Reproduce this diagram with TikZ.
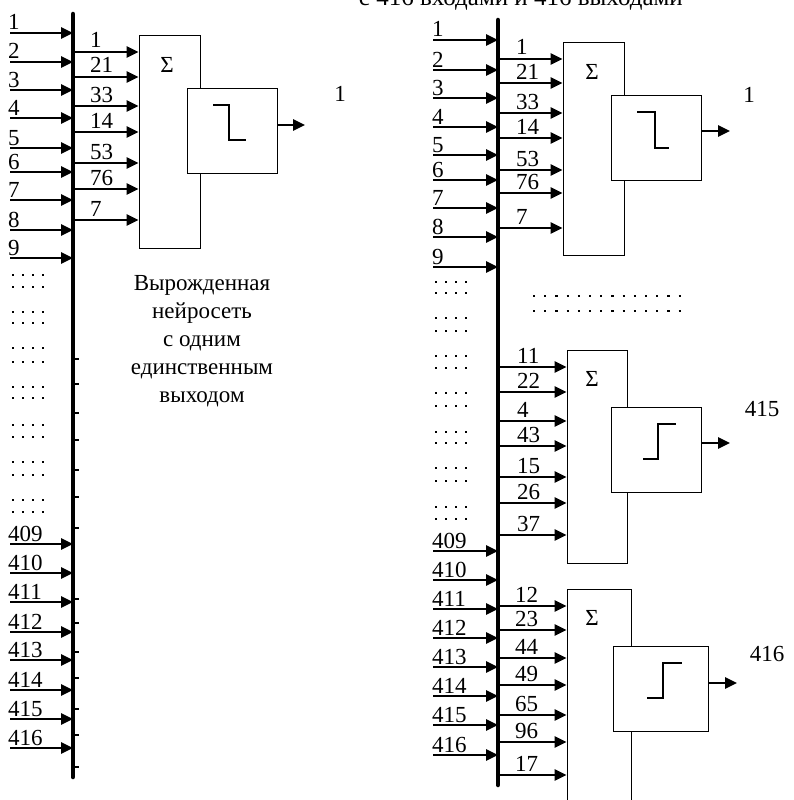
\documentclass[tikz,border=0pt]{standalone}
\usepackage{fontspec}
\setmainfont{Liberation Serif}
\usetikzlibrary{arrows.meta}
\begin{document}
\begin{tikzpicture}[x=1pt,y=-1pt,
  arr/.style={line width=2.6pt,-{Triangle[length=12pt,width=11pt]}},
  busln/.style={line width=4.5pt,line cap=round},
  box/.style={draw,line width=1pt,fill=white,inner sep=0pt},
  stepln/.style={line width=2.8pt},
  lbl/.style={font=\fontsize{23}{28}\selectfont,inner sep=0pt,anchor=base west},
  olbl/.style={font=\fontsize{23}{28}\selectfont,inner sep=0pt,anchor=base},
  dotrow/.style={line width=2.2pt,dash pattern=on 2.2pt off 7.8pt},
  middots/.style={line width=2.2pt,dash pattern=on 2.2pt off 9pt},
  tick/.style={line width=2.5pt}]
\useasboundingbox (0,0) rectangle (793,800);

% caption (cut at the top, as in the reference)
\node[font=\fontsize{25}{30}\selectfont,inner sep=0pt,anchor=base east] (cap) at (683,6) {с 416 входами и 416 выходами};

% ================= LEFT =================
\coordinate (busLt) at (73,14);
\coordinate (busLb) at (73,777);
\draw[busln] (busLt) -- (busLb);

\foreach \n/\y in {1/33,2/62,3/90,4/118,5/148,6/172,7/200,8/230,9/258,
                   409/544,410/573,411/602,412/632,413/660,414/690,415/719,416/748}{
  \coordinate (iL\n) at (10,\y);
  \node[lbl] (tL\n) at (8,\y-3) {\n};
  \draw[arr] (iL\n) -- (iL\n -| busLt);
}
\foreach \y in {275,287,312,323,348,362,387,398,425,437,462,475,500,512}{
  \draw[dotrow] (12,\y) -- (46,\y);
}
\foreach \y in {359,384,413,440,470,497,528,599,623,652,678,709,735,767}{
  \draw[tick] (75,\y) -- (79,\y);
}

\node[box,minimum width=61pt,minimum height=212pt] (sumL) at (169.5,142) {};
\node[olbl] (sigL) at (167,72) {Σ};
\foreach \n/\y in {1/52,21/77,33/106,14/132,53/163,76/189,7/220}{
  \node[lbl] (wL\n) at (90,\y-4) {\n};
  \draw[arr] (75,\y) -- (sumL.west |- 0,\y);
}
\node[box,minimum width=90pt,minimum height=85pt] (thL) at (232,130.5) {};
\draw[stepln] (213,105) -- (229,105) -- (229,140) -- (246,140);
\coordinate (oL) at (305,125);
\draw[arr] (thL.east |- oL) -- (oL);
\node[olbl] (oLt) at (340,101) {1};

\node[font=\fontsize{23}{28}\selectfont,inner sep=0pt,anchor=north,align=center] (descL) at (202,275.5)
  {Вырожденная\\нейросеть\\с одним\\единственным\\выходом};

% ================= RIGHT =================
\coordinate (busRt) at (498,20);
\coordinate (busRb) at (498,785);
\draw[busln] (busRt) -- (busRb);

\foreach \n/\y in {1/40,2/70,3/98,4/127,5/155,6/180,7/208,8/237,9/267,
                   409/551,410/580,411/609,412/638,413/667,414/696,415/725,416/755}{
  \coordinate (iR\n) at (433,\y);
  \node[lbl] (tR\n) at (432,\y-3) {\n};
  \draw[arr] (iR\n) -- (iR\n -| busRt);
}
\foreach \y in {282,293,318,331,356,368,393,406,432,443,468,481,507,519}{
  \draw[dotrow] (435,\y) -- (469,\y);
}
\draw[middots] (533,296) -- (685,296);
\draw[middots] (533,311) -- (685,311);

% neuron 1
\node[box,minimum width=61pt,minimum height=212pt] (sumA) at (593.5,149) {};
\node[olbl] (sigA) at (592,79) {Σ};
\foreach \n/\y in {1/59,21/83,33/113,14/138,53/170,76/193,7/228}{
  \node[lbl] (wA\n) at (516,\y-4) {\n};
  \draw[arr] (500,\y) -- (sumA.west |- 0,\y);
}
\node[box,minimum width=90pt,minimum height=85pt] (thA) at (656,137.5) {};
\draw[stepln] (637,112) -- (655,112) -- (655,148) -- (669,148);
\coordinate (oA) at (730,131);
\draw[arr] (thA.east |- oA) -- (oA);
\node[olbl] (oAt) at (749,102) {1};

% neuron 415
\node[box,minimum width=60pt,minimum height=213pt] (sumB) at (597,456.5) {};
\node[olbl] (sigB) at (592,386) {Σ};
\foreach \n/\y in {11/367,22/392,4/421,43/446,15/477,26/503,37/535}{
  \node[lbl] (wB\n) at (517,\y-4) {\n};
  \draw[arr] (500,\y) -- (sumB.west |- 0,\y);
}
\node[box,minimum width=90pt,minimum height=85pt] (thB) at (656,449.5) {};
\draw[stepln] (643,459) -- (658,459) -- (658,424) -- (676,424);
\coordinate (oB) at (730,443);
\draw[arr] (thB.east |- oB) -- (oB);
\node[olbl] (oBt) at (762,416) {415};

% neuron 416
\node[box,minimum width=64pt,minimum height=221pt] (sumC) at (599,699.5) {};
\node[olbl] (sigC) at (592,625) {Σ};
\foreach \n/\y in {12/606,23/630,44/658,49/685,65/715,96/742,17/775}{
  \node[lbl] (wC\n) at (515,\y-4) {\n};
  \draw[arr] (500,\y) -- (sumC.west |- 0,\y);
}
\node[box,minimum width=95pt,minimum height=85pt] (thC) at (660.5,688.5) {};
\draw[stepln] (647,698) -- (663,698) -- (663,663) -- (682,663);
\coordinate (oC) at (737,683);
\draw[arr] (thC.east |- oC) -- (oC);
\node[olbl] (oCt) at (767,661) {416};
\end{tikzpicture}
\end{document}
